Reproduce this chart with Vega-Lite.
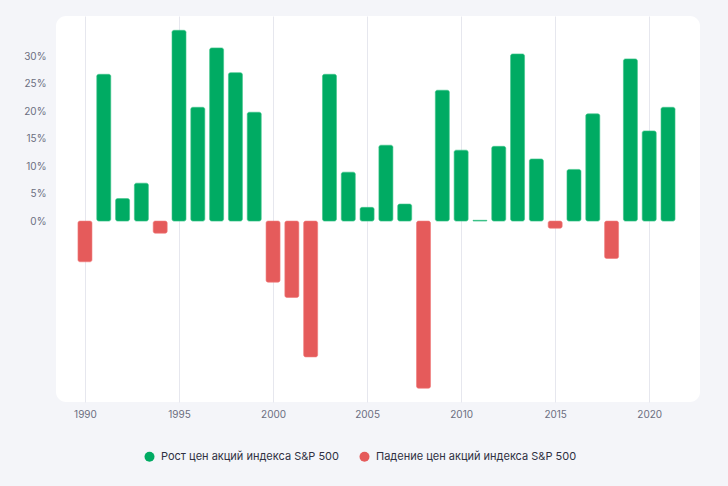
{
  "$schema": "https://vega.github.io/schema/vega-lite/v6.json",
  "width": 644,
  "height": 386,
  "autosize": "none",
  "padding": {"left": 56, "top": 16, "right": 28, "bottom": 84},
  "background": "#f4f5f9",
  "view": {"fill": "#ffffff", "stroke": null, "cornerRadius": 10},
  "config": {"font": "Inter"},
  "data": {
    "values": [
      {"year": 1990, "value": -7.4, "type": "Падение цен акций индекса S&P 500"},
      {"year": 1991, "value": 26.7, "type": "Рост цен акций индекса S&P 500"},
      {"year": 1992, "value": 4.1, "type": "Рост цен акций индекса S&P 500"},
      {"year": 1993, "value": 6.9, "type": "Рост цен акций индекса S&P 500"},
      {"year": 1994, "value": -2.2, "type": "Падение цен акций индекса S&P 500"},
      {"year": 1995, "value": 34.7, "type": "Рост цен акций индекса S&P 500"},
      {"year": 1996, "value": 20.7, "type": "Рост цен акций индекса S&P 500"},
      {"year": 1997, "value": 31.5, "type": "Рост цен акций индекса S&P 500"},
      {"year": 1998, "value": 27.0, "type": "Рост цен акций индекса S&P 500"},
      {"year": 1999, "value": 19.8, "type": "Рост цен акций индекса S&P 500"},
      {"year": 2000, "value": -11.1, "type": "Падение цен акций индекса S&P 500"},
      {"year": 2001, "value": -13.9, "type": "Падение цен акций индекса S&P 500"},
      {"year": 2002, "value": -24.7, "type": "Падение цен акций индекса S&P 500"},
      {"year": 2003, "value": 26.7, "type": "Рост цен акций индекса S&P 500"},
      {"year": 2004, "value": 8.9, "type": "Рост цен акций индекса S&P 500"},
      {"year": 2005, "value": 2.5, "type": "Рост цен акций индекса S&P 500"},
      {"year": 2006, "value": 13.8, "type": "Рост цен акций индекса S&P 500"},
      {"year": 2007, "value": 3.1, "type": "Рост цен акций индекса S&P 500"},
      {"year": 2008, "value": -30.4, "type": "Падение цен акций индекса S&P 500"},
      {"year": 2009, "value": 23.8, "type": "Рост цен акций индекса S&P 500"},
      {"year": 2010, "value": 12.9, "type": "Рост цен акций индекса S&P 500"},
      {"year": 2011, "value": 0.15, "type": "Рост цен акций индекса S&P 500"},
      {"year": 2012, "value": 13.6, "type": "Рост цен акций индекса S&P 500"},
      {"year": 2013, "value": 30.4, "type": "Рост цен акций индекса S&P 500"},
      {"year": 2014, "value": 11.3, "type": "Рост цен акций индекса S&P 500"},
      {"year": 2015, "value": -1.3, "type": "Падение цен акций индекса S&P 500"},
      {"year": 2016, "value": 9.4, "type": "Рост цен акций индекса S&P 500"},
      {"year": 2017, "value": 19.5, "type": "Рост цен акций индекса S&P 500"},
      {"year": 2018, "value": -6.8, "type": "Падение цен акций индекса S&P 500"},
      {"year": 2019, "value": 29.5, "type": "Рост цен акций индекса S&P 500"},
      {"year": 2020, "value": 16.4, "type": "Рост цен акций индекса S&P 500"},
      {"year": 2021, "value": 20.7, "type": "Рост цен акций индекса S&P 500"}
    ]
  },
  "mark": {"type": "bar", "size": 14, "cornerRadius": 2, "strokeWidth": 1, "strokeOpacity": 0.6},
  "encoding": {
    "x": {
      "field": "year",
      "type": "quantitative",
      "scale": {"domain": [1988.46, 2022.7], "nice": false, "zero": false, "padding": 0},
      "axis": {
        "title": null,
        "values": [1990, 1995, 2000, 2005, 2010, 2015, 2020],
        "format": "d",
        "grid": true,
        "gridColor": "#e6e7ee",
        "gridWidth": 1,
        "ticks": false,
        "domain": false,
        "labelFontSize": 10,
        "labelColor": "#6b6e80",
        "labelPadding": 7
      }
    },
    "y": {
      "field": "value",
      "type": "quantitative",
      "scale": {"domain": [-32.9, 37.3], "nice": false, "zero": false},
      "axis": {
        "title": null,
        "values": [0, 5, 10, 15, 20, 25, 30],
        "labelExpr": "datum.value + '%'",
        "grid": false,
        "ticks": false,
        "domain": false,
        "labelFontSize": 10,
        "labelColor": "#6b6e80",
        "labelPadding": 10
      }
    },
    "y2": {"datum": 0},
    "color": {
      "field": "type",
      "type": "nominal",
      "scale": {
        "domain": ["Рост цен акций индекса S&P 500", "Падение цен акций индекса S&P 500"],
        "range": ["#00ab63", "#e55b5b"]
      },
      "legend": {
        "title": null,
        "orient": "none",
        "direction": "horizontal",
        "legendX": 88,
        "legendY": 435,
        "symbolType": "circle",
        "symbolSize": 100,
        "symbolStrokeWidth": 0,
        "symbolOpacity": 1,
        "labelFontSize": 11,
        "labelColor": "#2f3142",
        "labelOffset": 6,
        "labelLimit": 0,
        "columnPadding": 20
      }
    },
    "stroke": {
      "field": "type",
      "type": "nominal",
      "scale": {
        "domain": ["Рост цен акций индекса S&P 500", "Падение цен акций индекса S&P 500"],
        "range": ["#3cc489", "#f07a7a"]
      },
      "legend": null
    }
  }
}
